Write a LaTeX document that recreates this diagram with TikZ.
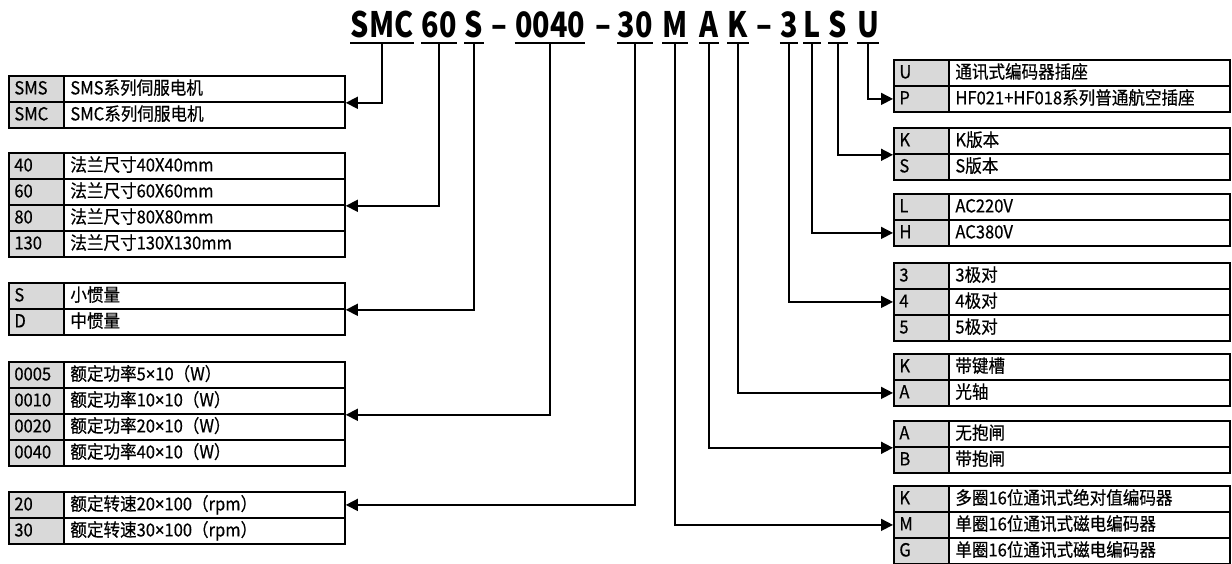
\documentclass[tikz,border=0pt]{standalone}
\usepackage{fontspec}
\setmainfont{Noto Sans CJK SC}[FakeStretch=0.92, FakeBold=0.5]
\newfontfamily\codefont{Noto Sans CJK SC}[FakeStretch=0.82]
\newfontfamily\latinfont{Noto Sans}[FakeStretch=0.92, FakeBold=0.5]
\newcommand{\tms}{{\latinfont ×}}
\usetikzlibrary{arrows.meta}

\begin{document}
\begin{tikzpicture}[x=0.5pt, y=-0.5pt,
    every node/.style={font=\fontsize{9pt}{10pt}\selectfont},
    code/.style={draw, line width=0.9pt, fill=black!15, anchor=north west,
                 minimum height=13pt, text width=22pt, inner xsep=2.75pt,
                 inner ysep=0pt, align=left, text height=7pt, text depth=1.5pt},
    desc/.style={draw, line width=0.9pt, fill=white, anchor=north west,
                 minimum height=13pt, text width=134pt, inner xsep=3.25pt,
                 inner ysep=0pt, align=left, text height=7pt, text depth=1.5pt},
    seg/.style={font=\codefont\fontsize{17.5pt}{18pt}\selectfont\bfseries, anchor=base,
                inner xsep=0pt, inner ysep=3pt, text depth=0pt},
    ul/.style={line width=1pt},
    conn/.style={line width=0.8pt, -{Triangle[length=6pt, width=6pt]}},
  ]
  \useasboundingbox (0,0) rectangle (1232,563);
  % model code
  \node[seg] (tSMC) at (382,37) {SMC};
  \node[seg] (t60) at (439,37) {60};
  \node[seg] (tS) at (474,37) {S};
  \node[seg] (d1) at (499,37) {–};
  \node[seg] (t0040) at (550,37) {0040};
  \node[seg] (d2) at (603,37) {–};
  \node[seg] (t30) at (635,37) {30};
  \node[seg] (tM) at (675,37) {M};
  \node[seg] (tA) at (709,37) {A};
  \node[seg] (tK) at (738,37) {K};
  \node[seg] (d3) at (764,37) {–};
  \node[seg] (t3) at (789,37) {3};
  \node[seg] (tL) at (812,37) {L};
  \node[seg] (tS2) at (838,37) {S};
  \node[seg] (tU) at (868,37) {U};
  \draw[ul] (tSMC.south west) -- (tSMC.south east) (t60.south west) -- (t60.south east)
            (tS.south west) -- (tS.south east) (t0040.south west) -- (t0040.south east)
            (t30.south west) -- (t30.south east) (tM.south west) -- (tM.south east)
            (tA.south west) -- (tA.south east) (tK.south west) -- (tK.south east)
            (t3.south west) -- (t3.south east) (tL.south west) -- (tL.south east)
            (tS2.south west) -- (tS2.south east) (tU.south west) -- (tU.south east);

  % series
  \node[code] (ser1c) at (8,75) {SMS};
  \node[desc] (ser1d) at (63,75) {SMS系列伺服电机};
  \node[code] (ser2c) at (8,101) {SMC};
  \node[desc] (ser2d) at (63,101) {SMC系列伺服电机};
  % flange
  \node[code] (fl1c) at (8,152) {40};
  \node[desc] (fl1d) at (63,152) {法兰尺寸40X40mm};
  \node[code] (fl2c) at (8,178) {60};
  \node[desc] (fl2d) at (63,178) {法兰尺寸60X60mm};
  \node[code] (fl3c) at (8,204) {80};
  \node[desc] (fl3d) at (63,204) {法兰尺寸80X80mm};
  \node[code] (fl4c) at (8,230) {130};
  \node[desc] (fl4d) at (63,230) {法兰尺寸130X130mm};
  % inertia
  \node[code] (in1c) at (8,282) {S};
  \node[desc] (in1d) at (63,282) {小惯量};
  \node[code] (in2c) at (8,308) {D};
  \node[desc] (in2d) at (63,308) {中惯量};
  % power
  \node[code] (pw1c) at (8,361) {0005};
  \node[desc] (pw1d) at (63,361) {额定功率5\tms10（W）};
  \node[code] (pw2c) at (8,387) {0010};
  \node[desc] (pw2d) at (63,387) {额定功率10\tms10（W）};
  \node[code] (pw3c) at (8,413) {0020};
  \node[desc] (pw3d) at (63,413) {额定功率20\tms10（W）};
  \node[code] (pw4c) at (8,439) {0040};
  \node[desc] (pw4d) at (63,439) {额定功率40\tms10（W）};
  % speed
  \node[code] (sp1c) at (8,491) {20};
  \node[desc] (sp1d) at (63,491) {额定转速20\tms100（rpm）};
  \node[code] (sp2c) at (8,517) {30};
  \node[desc] (sp2d) at (63,517) {额定转速30\tms100（rpm）};

  % connector
  \node[code] (cn1c) at (893,59) {U};
  \node[desc] (cn1d) at (948,59) {通讯式编码器插座};
  \node[code] (cn2c) at (893,85) {P};
  \node[desc] (cn2d) at (948,85) {HF021+HF018系列普通航空插座};
  % version
  \node[code] (ver1c) at (893,127) {K};
  \node[desc] (ver1d) at (948,127) {K版本};
  \node[code] (ver2c) at (893,153) {S};
  \node[desc] (ver2d) at (948,153) {S版本};
  % voltage
  \node[code] (vol1c) at (893,193) {L};
  \node[desc] (vol1d) at (948,193) {AC220V};
  \node[code] (vol2c) at (893,219) {H};
  \node[desc] (vol2d) at (948,219) {AC380V};
  % poles
  \node[code] (pol1c) at (893,262) {3};
  \node[desc] (pol1d) at (948,262) {3极对};
  \node[code] (pol2c) at (893,288) {4};
  \node[desc] (pol2d) at (948,288) {4极对};
  \node[code] (pol3c) at (893,314) {5};
  \node[desc] (pol3d) at (948,314) {5极对};
  % shaft
  \node[code] (sh1c) at (893,353) {K};
  \node[desc] (sh1d) at (948,353) {带键槽};
  \node[code] (sh2c) at (893,379) {A};
  \node[desc] (sh2d) at (948,379) {光轴};
  % brake
  \node[code] (brk1c) at (893,420) {A};
  \node[desc] (brk1d) at (948,420) {无抱闸};
  \node[code] (brk2c) at (893,446) {B};
  \node[desc] (brk2d) at (948,446) {带抱闸};
  % encoder
  \node[code] (enc1c) at (893,485) {K};
  \node[desc] (enc1d) at (948,485) {多圈16位通讯式绝对值编码器};
  \node[code] (enc2c) at (893,511) {M};
  \node[desc] (enc2d) at (948,511) {单圈16位通讯式磁电编码器};
  \node[code] (enc3c) at (893,537) {G};
  \node[desc] (enc3d) at (948,537) {单圈16位通讯式磁电编码器};

  \draw[conn] (tSMC.south) |- (ser1d.south east);
  \draw[conn] (t60.south) |- (fl2d.south east);
  \draw[conn] (tS.south) |- (in1d.south east);
  \draw[conn] (t0040.south) |- (pw2d.south east);
  \draw[conn] (t30.south) |- (sp1d.east);
  \draw[conn] (tU.south) |- (cn2c.west);
  \draw[conn] (tS2.south) |- (ver1c.south west);
  \draw[conn] (tL.south) |- (vol2c.west);
  \draw[conn] (t3.south) |- (pol2c.west);
  \draw[conn] (tK.south) |- (sh2c.west);
  \draw[conn] (tA.south) |- (brk1c.south west);
  \draw[conn] (tM.south) |- (enc2c.west);
\end{tikzpicture}
\end{document}
